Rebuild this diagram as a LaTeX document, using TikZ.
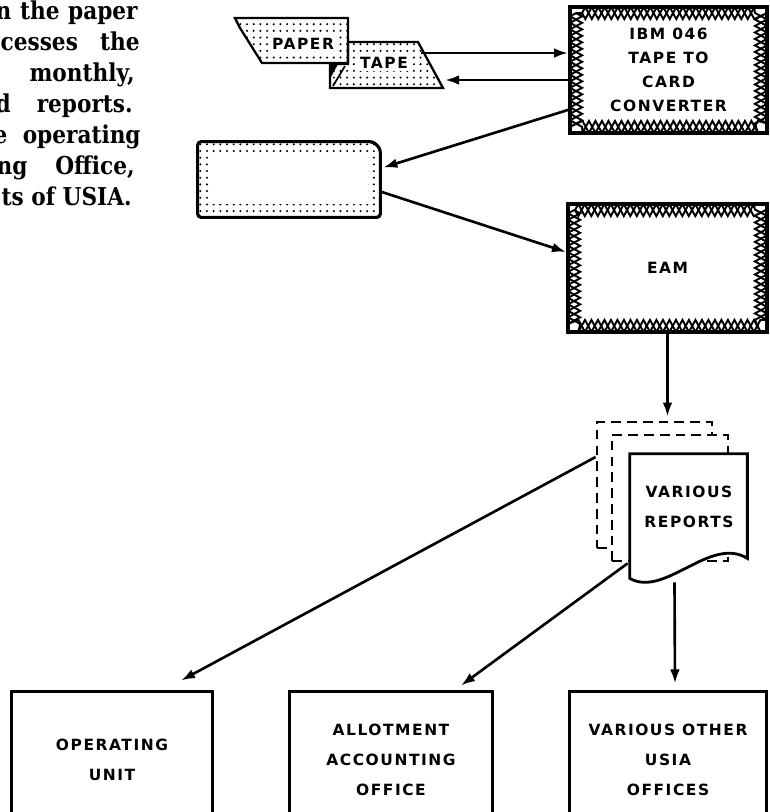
\documentclass[tikz,border=0pt]{standalone}
\usepackage{fontspec}
\newfontfamily\labelfont[LetterSpace=10]{DejaVu Sans}
\newfontfamily\bodyfont[FakeStretch=0.88]{DejaVu Serif}
\usepackage{tikz}
\usetikzlibrary{arrows.meta,decorations.pathmorphing,patterns.meta}

\tikzset{
  flowarrow/.style={-{Latex[length=8pt,width=5.5pt]},line width=1.5pt},
  caps/.style={font=\fontsize{8.8}{17}\selectfont\labelfont\bfseries,align=center},
  officebox/.style={draw,line width=1.7pt,minimum height=2.76cm,caps},
  machinebox/.style={draw,line width=2.2pt,caps},
  xband/.style={line width=1.1pt,decorate,decoration={zigzag,segment length=0.26cm,amplitude=0.12cm}},
  xbandback/.style={line width=1.1pt,decorate,decoration={zigzag,segment length=0.26cm,amplitude=-0.12cm}},
  dotfill/.style={pattern={Dots[distance=3.8pt,radius=0.65pt]}},
  oldpage/.style={draw,fill=white,line width=1.6pt,dash pattern=on 5.5pt off 3.5pt},
  tapelabel/.style={caps,fill=white,inner sep=1.5pt},
  bodytext/.style={font=\fontsize{14}{16}\selectfont\bodyfont\bfseries,anchor=base east,inner sep=0pt}
}

\begin{document}
\begin{tikzpicture}[x=0.02cm,y=-0.02cm]
  \useasboundingbox (0,0) rectangle (769,812);
  \clip (0,0) rectangle (769,812);

  \node[bodytext] (line1) at (138,19) {\makebox[2.84cm][s]{n the paper}};
  \node[bodytext] (line2) at (140,50) {\makebox[2.78cm][s]{cesses the}};
  \node[bodytext] (line3) at (135,81) {monthly,};
  \node[bodytext] (line4) at (133,112) {\makebox[2.74cm][s]{d reports.}};
  \node[bodytext] (line5) at (141,143) {\makebox[2.94cm][s]{e operating}};
  \node[bodytext] (line6) at (135,174) {\makebox[2.76cm][s]{ng Office,}};
  \node[bodytext] (line7) at (132,205) {ts of USIA.};

  % paper tape
  \draw[dotfill,line width=1.3pt] (348,42) -- (418,42) -- (443,88) -- (330,88) -- (330,64) -- (348,64) -- cycle;
  \fill (330,64) -- (338,64) -- (330,79) -- cycle;
  \draw[line width=1pt] (333,86) -- (345,66);
  \draw[dotfill,line width=1.3pt] (235,18) -- (348,18) -- (348,63) -- (262,63) -- (240,28) -- cycle;
  \node[tapelabel] (paper) at (303,44) {PAPER};
  \node[tapelabel] (tape) at (384,63) {TAPE};
  \coordinate (tapeout) at (421,53);
  \coordinate (tapein) at (445,80);

  \node[machinebox,minimum width=3.94cm,minimum height=2.52cm,
        font=\fontsize{8.8}{13.6}\selectfont\labelfont\bfseries] (conv) at (668.5,70)
    {IBM 046\\TAPE TO\\CARD\\CONVERTER};
  \begin{scope}
    \clip (conv.north west) rectangle (conv.south east);
    \draw[xband] ([shift={(8,8)}]conv.north west) rectangle ([shift={(-8,-8)}]conv.south east);
    \draw[xbandback] ([shift={(8,8)}]conv.north west) rectangle ([shift={(-8,-8)}]conv.south east);
  \end{scope}

  \node[machinebox,minimum width=3.98cm,minimum height=2.56cm] (eam) at (667.5,268) {EAM};
  \begin{scope}
    \clip (eam.north west) rectangle (eam.south east);
    \draw[xband] ([shift={(8,8)}]eam.north west) rectangle ([shift={(-8,-8)}]eam.south east);
    \draw[xbandback] ([shift={(8,8)}]eam.north west) rectangle ([shift={(-8,-8)}]eam.south east);
  \end{scope}

  % punched card
  \node[minimum width=3.64cm,minimum height=1.5cm,inner sep=0pt] (card) at (289,179.5) {};
  \draw[dotfill,line width=1.8pt,rounded corners=2pt] (card.south west) -- (card.north west)
    -- ([shift={(-7,0)}]card.north east) -- ([shift={(0,7)}]card.north east) -- (card.south east) -- cycle;
  \fill[white] ([shift={(12,11)}]card.north west) rectangle ([shift={(-12,-13)}]card.south east);

  % report stack
  \node[oldpage,minimum width=2.3cm,minimum height=2.52cm] (pg3) at (654.5,485) {};
  \node[oldpage,minimum width=2.32cm,minimum height=2.52cm] (pg2) at (670,498) {};
  \node[minimum width=2.34cm,minimum height=2.48cm,inner sep=0pt] (rep) at (688.5,516) {};
  \draw[line width=1.6pt,fill=white] (rep.north west) -- (rep.north east)
    -- ([shift={(0,-20)}]rep.south east)
    .. controls ([shift={(-37,-43)}]rep.south east) and ([shift={(35,20)}]rep.south west) .. (rep.south west)
    -- cycle;
  \node[caps] (replabel) at (689,507) {VARIOUS\\REPORTS};

  \node[officebox,minimum width=4.04cm] (opunit) at (112,760) {OPERATING\\UNIT};
  \node[officebox,minimum width=4.08cm] (allot) at (391,760) {ALLOTMENT\\ACCOUNTING\\OFFICE};
  \node[officebox,minimum width=3.96cm] (others) at (668,760) {VARIOUS OTHER\\USIA\\OFFICES};

  \draw[flowarrow] (tapeout) -- (tapeout -| conv.west);
  \draw[flowarrow] (tapein -| conv.west) -- (tapein);
  \draw[flowarrow] ([shift={(0,-25)}]conv.south west) -- ([shift={(3,-12)}]card.east);
  \draw[flowarrow] ([shift={(0,12)}]card.east) -- ([shift={(0,-16)}]eam.west);
  \draw[flowarrow] (eam.south) -- ([shift={(0,-4)}]eam.south |- pg3.north);
  \draw[flowarrow] ([shift={(0,-28)}]pg3.west) -- ([shift={(69,-9)}]opunit.north);
  \draw[flowarrow] ([shift={(-2,-15)}]rep.south west) -- ([shift={(70,-4)}]allot.north);
  \draw[flowarrow] ([shift={(-14,4)}]rep.south) -- ([shift={(7,-6)}]others.north);
\end{tikzpicture}
\end{document}
